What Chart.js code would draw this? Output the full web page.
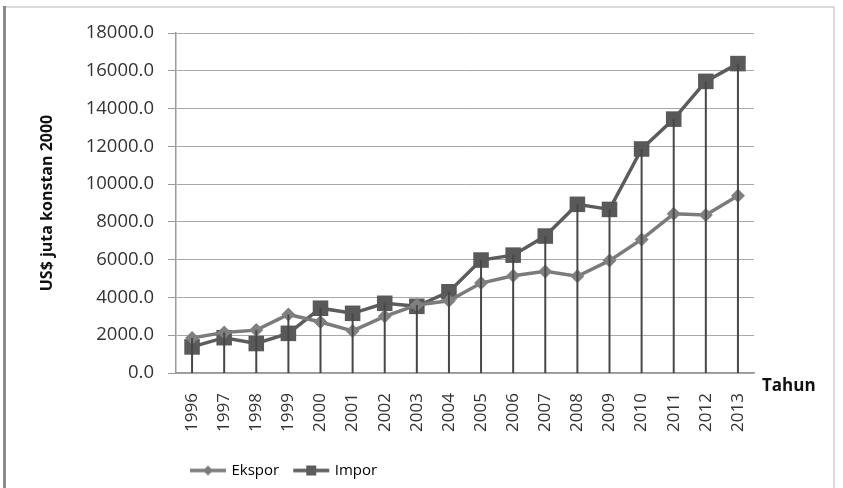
<!DOCTYPE html>
<html>
<head>
<meta charset="utf-8">
<script src="https://cdn.jsdelivr.net/npm/chart.js@4"></script>
<style>
html,body{margin:0;padding:0;background:#fff;}
#wrap{width:843px;height:488px;position:relative;}
</style>
</head>
<body>
<div id="wrap"><canvas id="c" width="843" height="488"></canvas></div>
<script>
const years = ['1996','1997','1998','1999','2000','2001','2002','2003','2004','2005','2006','2007','2008','2009','2010','2011','2012','2013'];
const ekspor = [1850, 2150, 2270, 3100, 2700, 2230, 3000, 3600, 3820, 4760, 5150, 5380, 5120, 5950, 7070, 8430, 8360, 9380];
const impor = [1380, 1870, 1560, 2100, 3430, 3160, 3690, 3530, 4300, 5980, 6240, 7250, 8930, 8660, 11860, 13440, 15440, 16380];
const seriesNames = ['Ekspor', 'Impor'];
const yTitle = 'US$ juta konstan 2000';
const xTitle = 'Tahun';

const FONT = "'Open Sans', sans-serif";
const EK_COLOR = '#7b7b7b';
const IM_COLOR = '#5c5c5c';

function legendImg(color, shape) {
  const cv = document.createElement('canvas');
  cv.width = 40; cv.height = 16;
  const g = cv.getContext('2d');
  g.strokeStyle = color; g.lineWidth = 3.5;
  g.beginPath(); g.moveTo(2, 8); g.lineTo(38, 8); g.stroke();
  g.fillStyle = color;
  g.beginPath();
  if (shape === 'diamond') {
    g.moveTo(20, 3); g.lineTo(25, 8); g.lineTo(20, 13); g.lineTo(15, 8);
  } else {
    g.rect(15, 3, 10, 10);
  }
  g.closePath(); g.fill();
  return cv;
}
const legendImgs = [legendImg(EK_COLOR, 'diamond'), legendImg(IM_COLOR, 'square')];

const framePlugin = {
  id: 'frame',
  beforeDraw(chart) {
    const ctx = chart.ctx;
    ctx.save();
    ctx.fillStyle = '#fff';
    ctx.fillRect(0, 0, chart.width, chart.height);
    ctx.strokeStyle = '#cfcfcf'; ctx.lineWidth = 1.5;
    ctx.beginPath(); ctx.moveTo(5, 7); ctx.lineTo(834, 7); ctx.lineTo(834, 488); ctx.stroke();
    ctx.strokeStyle = '#8c8c8c'; ctx.lineWidth = 3;
    ctx.beginPath(); ctx.moveTo(4.5, 6); ctx.lineTo(4.5, 488); ctx.stroke();
    ctx.restore();
  }
};

const dropPlugin = {
  id: 'droplines',
  afterDatasetsDraw(chart) {
    const ctx = chart.ctx;
    const xs = chart.scales.x, ys = chart.scales.y;
    ctx.save();
    ctx.strokeStyle = '#474747'; ctx.lineWidth = 2;
    for (let i = 0; i < years.length; i++) {
      const v = Math.max(ekspor[i], impor[i]);
      const x = xs.getPixelForValue(i);
      ctx.beginPath();
      ctx.moveTo(x, ys.getPixelForValue(v));
      ctx.lineTo(x, ys.getPixelForValue(0));
      ctx.stroke();
    }
    ctx.restore();
  },
  afterDraw(chart) {
    const ctx = chart.ctx, a = chart.chartArea;
    ctx.save();
    ctx.font = 'bold 17px ' + FONT;
    ctx.fillStyle = '#111';
    ctx.textAlign = 'left'; ctx.textBaseline = 'middle';
    ctx.fillText(xTitle, a.right + 8, a.bottom + 13);
    ctx.restore();
  }
};

new Chart(document.getElementById('c'), {
  type: 'line',
  data: {
    labels: years,
    datasets: [
      { label: seriesNames[0], data: ekspor, borderColor: EK_COLOR, backgroundColor: EK_COLOR,
        borderWidth: 3.5, pointStyle: 'rectRot', pointRadius: 7, pointBorderWidth: 0,
        pointBackgroundColor: '#808080', tension: 0 },
      { label: seriesNames[1], data: impor, borderColor: IM_COLOR, backgroundColor: IM_COLOR,
        borderWidth: 3.5, pointStyle: 'rect', pointRadius: 11, pointBorderWidth: 0,
        pointBackgroundColor: '#595959', tension: 0 }
    ]
  },
  options: {
    responsive: false,
    animation: false,
    events: [],
    layout: { padding: { left: 0, top: 33, right: 89, bottom: 0 } },
    plugins: {
      tooltip: { enabled: false },
      legend: {
        position: 'bottom', align: 'start', fullSize: false,
        labels: {
          usePointStyle: true, pointStyleWidth: 32, boxHeight: 15, padding: 16,
          color: '#333', font: { family: FONT, size: 15 },
          generateLabels: (chart) => chart.data.datasets.map((ds, i) => ({
            text: ds.label, pointStyle: legendImgs[i], datasetIndex: i,
            fillStyle: ds.borderColor, strokeStyle: ds.borderColor, lineWidth: 0, hidden: false
          }))
        }
      }
    },
    scales: {
      x: {
        offset: true,
        grid: { display: false, drawTicks: false },
        border: { display: true, color: '#9a9a9a', width: 1.5 },
        ticks: { minRotation: 90, maxRotation: 90, autoSkip: false, padding: 20,
                 color: '#333', font: { family: FONT, size: 17 } },
        afterFit(s) { s.height = 74; }
      },
      y: {
        min: 0, max: 18000,
        grid: { color: '#a8a8a8', lineWidth: 1, tickLength: 8, tickColor: '#9a9a9a' },
        border: { display: true, color: '#9a9a9a', width: 1.5 },
        ticks: { stepSize: 2000, padding: 14, color: '#333', font: { family: FONT, size: 18.5 },
                 callback: (v) => Number(v).toFixed(1) },
        title: { display: true, text: yTitle, color: '#111', padding: { top: 38, bottom: 0 },
                 font: { family: FONT, size: 16, weight: 'bold' } },
        afterFit(s) { s.width = 176; }
      }
    }
  },
  plugins: [framePlugin, dropPlugin]
});
</script>
</body>
</html>
